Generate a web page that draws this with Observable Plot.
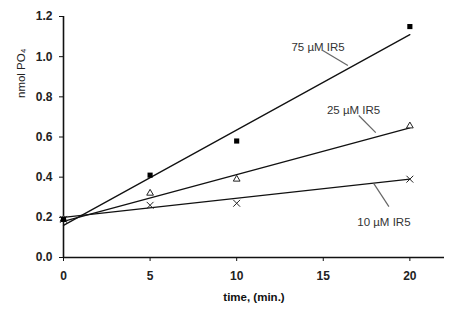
<!DOCTYPE html>
<html>
<head>
<meta charset="utf-8">
<script src="https://cdn.jsdelivr.net/npm/d3@7"></script>
<script src="https://cdn.jsdelivr.net/npm/@observablehq/plot@0.6"></script>
<style>
  html, body { margin: 0; padding: 0; background: #fff; }
</style>
</head>
<body>
<div id="chart"></div>
<script>
// Measured time points (min.)
const times = [0, 5, 10, 20];
// nmol PO4 measured for each IR5 concentration
const y75 = [0.19, 0.41, 0.58, 1.15];
const y25 = [0.19, 0.32, 0.39, 0.655];
const y10 = [0.19, 0.26, 0.27, 0.39];
// Trend line end points
const fitTimes = [0, 20];
const fit75 = [0.16, 1.11];
const fit25 = [0.18, 0.645];
const fit10 = [0.20, 0.39];
// Series labels and leader lines (data coordinates)
const seriesLabels = ["75 µM IR5", "25 µM IR5", "10 µM IR5"];
const labelX = [14.7, 16.75, 18.5];
const labelY = [1.045, 0.732, 0.173];
const labelAnchor = ["end", "end", "start"];
const leaderX1 = [14.97, 17.05, 18.79];
const leaderY1 = [1.031, 0.707, 0.253];
const leaderX2 = [16.42, 18.03, 17.92];
const leaderY2 = [0.956, 0.622, 0.368];
const xTicks = [0, 5, 10, 15, 20];
const yTicks = [0, 0.2, 0.4, 0.6, 0.8, 1.0, 1.2];

const pts = (ys) => times.map((t, i) => ({t, v: ys[i]}));
const fit = (ys) => fitTimes.map((t, i) => ({t, v: ys[i]}));
const labels = seriesLabels.map((s, i) => ({s, x: labelX[i], y: labelY[i], a: labelAnchor[i]}));
const leaders = seriesLabels.map((s, i) => ({x1: leaderX1[i], y1: leaderY1[i], x2: leaderX2[i], y2: leaderY2[i]}));

const chart = Plot.plot({
  width: 454,
  height: 321,
  marginLeft: 63,
  marginTop: 16,
  marginRight: 10,
  marginBottom: 64,
  style: {fontFamily: "'Liberation Sans', Arial, sans-serif", fontSize: "11px", background: "#fff", color: "#111"},
  x: {domain: [0, 22]},
  y: {domain: [0, 1.2]},
  marks: [
    Plot.axisX({ticks: xTicks, tickSize: 4, tickPadding: 10, fontWeight: "bold", fontSize: 12, label: null, stroke: "#111", fill: "#222"}),
    Plot.axisY({ticks: yTicks, tickSize: 4, tickPadding: 7, tickFormat: d3.format(".1f"), fontWeight: "bold", fontSize: 12, label: null, stroke: "#111", fill: "#222"}),
    Plot.ruleY([0], {stroke: "#111", strokeWidth: 1.6}),
    Plot.ruleX([0], {stroke: "#111", strokeWidth: 1.6}),
    Plot.text(["time, (min.)"], {frameAnchor: "bottom", dy: 43, fontWeight: "bold", fontSize: 11.5, fill: "#111"}),
    Plot.text(["nmol PO₄"], {frameAnchor: "left", dx: -42, dy: -39, rotate: -90, fontSize: 11.5, fill: "#222"}),
    Plot.line(fit(fit75), {x: "t", y: "v", stroke: "#111", strokeWidth: 1.3}),
    Plot.line(fit(fit25), {x: "t", y: "v", stroke: "#111", strokeWidth: 1.3}),
    Plot.line(fit(fit10), {x: "t", y: "v", stroke: "#111", strokeWidth: 1.3}),
    Plot.dot(pts(y10), {x: "t", y: "v", symbol: "times", r: 3.2, stroke: "#222", strokeWidth: 1}),
    Plot.dot(pts(y25), {x: "t", y: "v", symbol: "triangle", r: 2.5, stroke: "#222", strokeWidth: 1, fill: "white"}),
    Plot.dot(pts(y75), {x: "t", y: "v", symbol: "square", r: 2.9, fill: "#000", stroke: "none"}),
    Plot.link(leaders, {x1: "x1", y1: "y1", x2: "x2", y2: "y2", stroke: "#666", strokeWidth: 1.2}),
    Plot.text(labels, {x: "x", y: "y", text: "s", textAnchor: d => d.a, fill: "#333", fontSize: 11.5})
  ]
});
document.getElementById("chart").appendChild(chart);
</script>
</body>
</html>
